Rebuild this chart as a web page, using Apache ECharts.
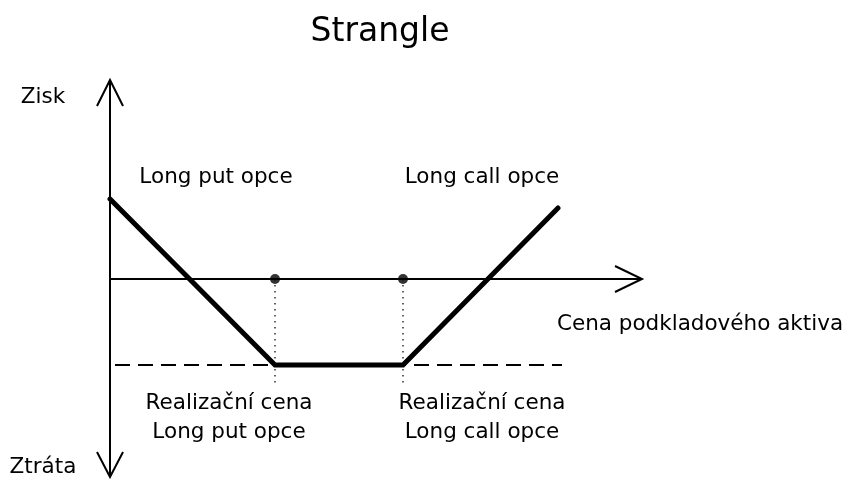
<!DOCTYPE html>
<html>
<head>
<meta charset="utf-8">
<script src="https://cdn.jsdelivr.net/npm/echarts@6/dist/echarts.min.js"></script>
<style>
  html, body { margin: 0; padding: 0; background: #fff; }
  #chart { width: 847px; height: 479px; }
</style>
</head>
<body>
<div id="chart"></div>
<script>
// Strangle payoff: price of the underlying vs. profit/loss
const price = [0, 165, 293, 448];
const payoff = [80, -86, -86, 71];
const strikes = [165, 293];
const premiumLevel = -86;
const dashedRange = [5, 452];
const strikeGuideBottom = -106;
const xRange = [0, 532];
const yRange = [-198, 199];

const FONT = 'DejaVu Sans';

const chart = echarts.init(document.getElementById('chart'), null, { renderer: 'canvas' });

// axes with open chevron arrowheads
function renderAxes(params, api) {
  const o = api.coord([0, 0]);
  const top = api.coord([0, yRange[1]]);
  const bot = api.coord([0, yRange[0]]);
  const right = api.coord([xRange[1], 0]);
  const style = { stroke: '#000', lineWidth: 2, fill: null };
  return {
    type: 'group',
    children: [
      { type: 'line', shape: { x1: top[0], y1: top[1], x2: bot[0], y2: bot[1] }, style },
      { type: 'line', shape: { x1: o[0], y1: o[1], x2: right[0], y2: right[1] }, style },
      { type: 'polyline', shape: { points: [[top[0] - 13, top[1] + 26], top, [top[0] + 13, top[1] + 26]] }, style },
      { type: 'polyline', shape: { points: [[bot[0] - 13, bot[1] - 25], bot, [bot[0] + 13, bot[1] - 25]] }, style },
      { type: 'polyline', shape: { points: [[right[0] - 27, right[1] - 13], right, [right[0] - 27, right[1] + 13]] }, style }
    ]
  };
}

const label = (x, y, text) => ({
  type: 'text',
  x, y,
  style: {
    text,
    fontFamily: FONT,
    fontSize: 21.5,
    fill: '#000',
    textAlign: 'center',
    textVerticalAlign: 'middle',
    lineHeight: 29
  }
});

chart.setOption({
  animation: false,
  backgroundColor: '#fff',
  title: {
    text: 'Strangle',
    left: 375,
    top: 11,
    textAlign: 'center',
    textStyle: { fontFamily: FONT, fontSize: 33, fontWeight: 'normal', color: '#000' }
  },
  grid: { left: 110, right: 205, top: 80, bottom: 2 },
  xAxis: { type: 'value', min: xRange[0], max: xRange[1], show: false },
  yAxis: { type: 'value', min: yRange[0], max: yRange[1], show: false },
  series: [
    {
      type: 'custom',
      renderItem: renderAxes,
      data: [[0, 0]],
      silent: true,
      z: 1
    },
    {
      // premium level
      type: 'line',
      data: dashedRange.map(x => [x, premiumLevel]),
      symbol: 'none',
      lineStyle: { color: '#000', width: 1.8, type: [15, 8] },
      z: 2
    },
    ...strikes.map(k => ({
      type: 'line',
      data: [[k, 0], [k, strikeGuideBottom]],
      symbol: 'none',
      lineStyle: { color: '#222', width: 1.4, type: [1.5, 4.5] },
      z: 2
    })),
    {
      type: 'scatter',
      data: strikes.map(k => [k, 0]),
      symbolSize: 10,
      itemStyle: { color: '#000' },
      z: 5
    },
    {
      // payoff
      type: 'line',
      data: price.map((p, i) => [p, payoff[i]]),
      symbol: 'none',
      lineStyle: { color: '#000', width: 5, cap: 'round', join: 'miter' },
      z: 4
    }
  ],
  graphic: [
    label(43, 97, 'Zisk'),
    label(43, 467, 'Ztráta'),
    label(216, 177, 'Long put opce'),
    label(482, 177, 'Long call opce'),
    label(700, 324, 'Cena podkladového aktiva'),
    label(229, 418, 'Realizační cena\nLong put opce'),
    label(482, 418, 'Realizační cena\nLong call opce')
  ]
});
</script>
</body>
</html>
